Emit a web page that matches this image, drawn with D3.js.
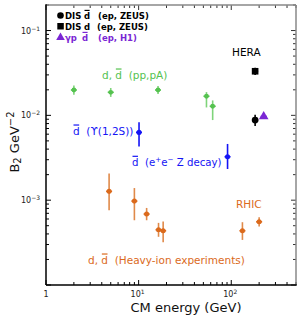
<!DOCTYPE html>
<html>
<head>
<meta charset="utf-8">
<script src="https://cdn.jsdelivr.net/npm/d3@7"></script>
<style>
  html, body { margin: 0; padding: 0; background: #fff; }
  svg { display: block; font-family: "DejaVu Sans", sans-serif; }
</style>
</head>
<body>
<svg id="chart" width="300" height="317"></svg>
<script>
// values (energy in GeV, B2 in GeV^2, lo/hi = error bar ends)
const ppData = [
  { e: 2.0, b2: 0.0199, lo: 0.0175, hi: 0.0225 },
  { e: 5.0, b2: 0.0187, lo: 0.0165, hi: 0.0210 },
  { e: 16.2, b2: 0.0199, lo: 0.0178, hi: 0.0222 },
  { e: 54, b2: 0.0168, lo: 0.0124, hi: 0.0188 },
  { e: 63, b2: 0.0128, lo: 0.0088, hi: 0.0150 }
];
const upsilonData = [{ e: 10.1, b2: 0.0063, lo: 0.0043, hi: 0.0083 }];
const zDecayData = [{ e: 91.2, b2: 0.00325, lo: 0.00233, hi: 0.0046 }];
const heavyIonData = [
  { e: 4.8, b2: 0.00127, lo: 0.00076, hi: 0.00206 },
  { e: 9.0, b2: 0.000975, lo: 0.00058, hi: 0.00139 },
  { e: 12.2, b2: 0.000686, lo: 0.00058, hi: 0.00081 },
  { e: 16.4, b2: 0.000448, lo: 0.00037, hi: 0.00054 },
  { e: 18.4, b2: 0.000436, lo: 0.00032, hi: 0.00056 },
  { e: 132, b2: 0.000436, lo: 0.00034, hi: 0.00055 },
  { e: 200, b2: 0.000556, lo: 0.00049, hi: 0.00063 }
];
const zeusDbar = [{ e: 181, b2: 0.0088, lo: 0.0075, hi: 0.0102 }];
const zeusD = [{ e: 181, b2: 0.0331, lo: 0.0300, hi: 0.0365 }];
const h1Dbar = [{ e: 224, b2: 0.0097, lo: 0.0097, hi: 0.0097 }];

const xDomain = [1, 500];
const yDomain = [1e-4, 0.2];
const xMajor = [1, 10, 100];
const xMajorLabels = [["1", ""], ["10", "1"], ["10", "2"]];
const yMajor = [1e-1, 1e-2, 1e-3];
const yMajorLabels = [["10", "−1"], ["10", "−2"], ["10", "−3"]];

const green = "#55c24f";
const blue = "#1414f5";
const orange = "#db6a1c";
const purple = "#7a26d4";

const svg = d3.select("#chart");
const plotL = 46, plotR = 296, plotT = 5, plotB = 285;
const x = d3.scaleLog().domain(xDomain).range([plotL, plotR]);
const y = d3.scaleLog().domain(yDomain).range([plotB, plotT]);

// minor ticks 1..9 per decade
function logTicks(domain) {
  const out = [];
  for (let p = -5; p <= 3; p++) {
    for (let m = 1; m <= 9; m++) {
      const v = m * Math.pow(10, p);
      if (v >= domain[0] * 0.999 && v <= domain[1] * 1.001) out.push({ v, major: m === 1 });
    }
  }
  return out;
}

const axisG = svg.append("g");
const xt = logTicks(xDomain);
const yt = logTicks(yDomain);
xt.forEach((t) => {
  const len = t.major ? 5 : 3;
  axisG.append("line").attr("x1", x(t.v)).attr("x2", x(t.v)).attr("y1", plotB).attr("y2", plotB - len).attr("stroke", "#000").attr("stroke-width", 1);
  axisG.append("line").attr("x1", x(t.v)).attr("x2", x(t.v)).attr("y1", plotT).attr("y2", plotT + len).attr("stroke", "#333").attr("stroke-width", 1);
});
yt.forEach((t) => {
  const len = t.major ? 5 : 3;
  axisG.append("line").attr("y1", y(t.v)).attr("y2", y(t.v)).attr("x1", plotL).attr("x2", plotL + len).attr("stroke", "#000").attr("stroke-width", 1);
  axisG.append("line").attr("y1", y(t.v)).attr("y2", y(t.v)).attr("x1", plotR).attr("x2", plotR - len).attr("stroke", "#333").attr("stroke-width", 1);
});
axisG.append("line").attr("x1", plotL).attr("x2", plotR).attr("y1", plotT).attr("y2", plotT).attr("stroke", "#888").attr("stroke-width", 1.5);
axisG.append("line").attr("x1", plotR).attr("x2", plotR).attr("y1", plotT).attr("y2", plotB).attr("stroke", "#888").attr("stroke-width", 1.5);
axisG.append("line").attr("x1", plotL).attr("x2", plotR + 0.75).attr("y1", plotB).attr("y2", plotB).attr("stroke", "#000").attr("stroke-width", 1.5);
axisG.append("line").attr("x1", plotL).attr("x2", plotL).attr("y1", plotT - 0.75).attr("y2", plotB).attr("stroke", "#000").attr("stroke-width", 1.5);

xMajor.forEach((v, i) => {
  const [base, exp] = xMajorLabels[i];
  const t = axisG.append("text").attr("x", x(v) + (exp ? -1 : 0)).attr("y", 297).attr("text-anchor", "middle").attr("font-size", 8).attr("fill", "#222");
  t.append("tspan").text(base);
  if (exp) t.append("tspan").attr("dy", -3).attr("font-size", 6).text(exp);
});
yMajor.forEach((v, i) => {
  const [base, exp] = yMajorLabels[i];
  const t = axisG.append("text").attr("x", 40).attr("y", y(v) + 3).attr("text-anchor", "end").attr("font-size", 8).attr("fill", "#222");
  t.append("tspan").text(base);
  t.append("tspan").attr("dy", -3).attr("font-size", 6).text(exp);
});

// axis titles
svg.append("text").attr("x", 186).attr("y", 312).attr("text-anchor", "middle").attr("font-size", 13).attr("fill", "#111").text("CM energy (GeV)");
const yl = svg.append("text").attr("transform", "translate(19,142) rotate(-90)").attr("text-anchor", "middle").attr("font-size", 13).attr("fill", "#111");
yl.append("tspan").text("B");
yl.append("tspan").attr("font-size", 10).attr("dy", 2).text("2");
yl.append("tspan").attr("dy", -2).text(" GeV");
yl.append("tspan").attr("font-size", 10).attr("dy", -5).text("−2");

// text with overlined / superscript parts
function richText(px, py, parts, opts) {
  const t = svg.append("text").attr("x", px).attr("y", py).attr("font-size", opts.size).attr("fill", opts.color)
    .attr("font-weight", opts.weight || "normal").style("white-space", "pre");
  const bars = [];
  parts.forEach((p) => {
    const s = t.append("tspan").text(p.t);
    if (p.sup) s.attr("font-size", opts.size * 0.7).attr("dy", -opts.size * 0.4);
    if (p.back) s.attr("dy", opts.size * 0.4);
    if (p.bar) bars.push(s);
  });
  bars.forEach((s) => {
    const b = s.node().getBBox();
    svg.append("line").attr("x1", b.x + 0.5).attr("x2", b.x + b.width - 0.5)
      .attr("y1", py - opts.size * 0.95).attr("y2", py - opts.size * 0.95)
      .attr("stroke", opts.color).attr("stroke-width", 1.2);
  });
  return t;
}

// legend: each row is [x, text, overline] pieces
const legendRows = [
  { yy: 18.5, color: "#000", pieces: [[65, "DIS", false], [84, "d", true], [98, "(ep, ZEUS)", false]] },
  { yy: 29.5, color: "#000", pieces: [[65, "DIS", false], [84, "d", false], [97, "(ep, ZEUS)", false]] },
  { yy: 40.5, color: purple, pieces: [[65, "γp", false], [82, "d", true], [98, "(ep, H1)", false]] }
];
legendRows.forEach((r) => {
  r.pieces.forEach(([px, txt, bar]) => richText(px, r.yy, [{ t: txt, bar }], { size: 8.5, color: r.color, weight: "bold" }));
});
svg.append("circle").attr("cx", 60.5).attr("cy", 15.5).attr("r", 3.3).attr("fill", "#000");
svg.append("rect").attr("x", 57.3).attr("y", 23).attr("width", 6.5).attr("height", 6.5).attr("fill", "#000");
svg.append("path").attr("d", d3.symbol(d3.symbolTriangle, 32)()).attr("transform", "translate(60.5,37.5)").attr("fill", purple);

// annotations
richText(102, 79, [{ t: "d, " }, { t: "d", bar: true }, { t: "  (pp,pA)" }], { size: 10.5, color: green });
richText(73, 135, [{ t: "d", bar: true }, { t: "  (ϒ(1,2S))" }], { size: 10.5, color: blue });
richText(132, 166, [{ t: "d", bar: true }, { t: "  (e" }, { t: "+", sup: true }, { t: "e", back: true }, { t: "−", sup: true }, { t: " Z decay)", back: true }], { size: 10.2, color: blue });
richText(232, 56, [{ t: "HERA" }], { size: 10.5, color: "#000" });
richText(236, 208, [{ t: "RHIC" }], { size: 10.5, color: orange });
richText(88, 264, [{ t: "d, " }, { t: "d", bar: true }, { t: "  (Heavy-ion experiments)" }], { size: 10.5, color: orange });

// data marks
function drawSeries(data, color, barColor, marker, size) {
  const g = svg.append("g");
  g.selectAll("line.ey").data(data).enter().append("line")
    .attr("x1", (d) => x(d.e)).attr("x2", (d) => x(d.e))
    .attr("y1", (d) => y(d.lo)).attr("y2", (d) => y(d.hi))
    .attr("stroke", barColor).attr("stroke-width", 1.6);
  g.selectAll("line.ex").data(data).enter().append("line")
    .attr("x1", (d) => x(d.e) - 3).attr("x2", (d) => x(d.e) + 3)
    .attr("y1", (d) => y(d.b2)).attr("y2", (d) => y(d.b2))
    .attr("stroke", color).attr("stroke-width", 1.6);
  g.selectAll("path.m").data(data).enter().append("path")
    .attr("d", d3.symbol(marker, size)())
    .attr("transform", (d) => `translate(${x(d.e)},${y(d.b2)})`)
    .attr("fill", color);
}
drawSeries(ppData, green, "#7fd47a", d3.symbolCircle, 18);
drawSeries(upsilonData, blue, blue, d3.symbolCircle, 20);
drawSeries(zDecayData, blue, blue, d3.symbolCircle, 20);
drawSeries(heavyIonData, orange, "#e08a4a", d3.symbolCircle, 20);
drawSeries(zeusDbar, "#000", "#000", d3.symbolCircle, 36);
drawSeries(zeusD, "#000", "#000", d3.symbolSquare, 44);
drawSeries(h1Dbar, purple, purple, d3.symbolTriangle, 40);
</script>
</body>
</html>
